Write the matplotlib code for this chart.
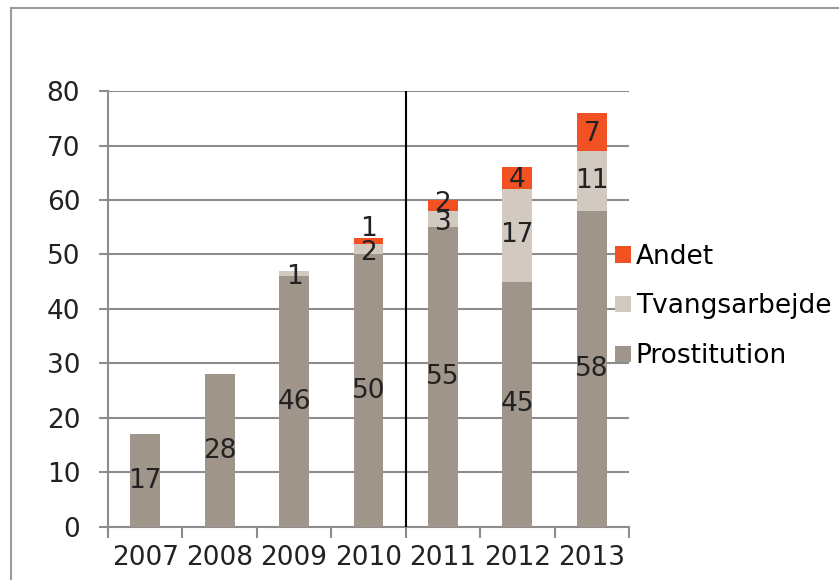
import matplotlib
matplotlib.use("Agg")
import matplotlib.pyplot as plt
from matplotlib.patches import Rectangle
import numpy as np

years = ["2007", "2008", "2009", "2010", "2011", "2012", "2013"]
prostitution = [17, 28, 46, 50, 55, 45, 58]
tvangsarbejde = [0, 0, 1, 2, 3, 17, 11]
andet = [0, 0, 0, 1, 2, 4, 7]

c_pro = "#A0958A"
c_tva = "#D2CAC0"
c_and = "#F25124"
grid_c = "#8C8C8C"
txt_c = "#222222"

plt.rcParams['font.family'] = ['DejaVu Sans']
fig = plt.figure(figsize=(8.39, 5.80), dpi=100)
ax = fig.add_axes([0.1287, 0.0914, 0.7497 - 0.1287, 0.8431 - 0.0914])

x = np.arange(len(years))
w = 0.40
pro = np.array(prostitution)
tva = np.array(tvangsarbejde)
andt = np.array(andet)

b1 = ax.bar(x, pro, w, color=c_pro, label="Prostitution", zorder=3)
b2 = ax.bar(x, tva, w, bottom=pro, color=c_tva, label="Tvangsarbejde", zorder=3)
b3 = ax.bar(x, andt, w, bottom=pro + tva, color=c_and, label="Andet", zorder=3)

fs = 19
for i in range(len(years)):
    ax.text(x[i], pro[i] / 2, str(pro[i]), ha="center", va="center", fontsize=fs, color=txt_c, zorder=5)
    if tva[i] > 0:
        yy = pro[i] + tva[i] / 2
        if tva[i] <= 3:
            yy = pro[i] + tva[i] / 2 - 0.7
        ax.text(x[i], yy, str(tva[i]), ha="center", va="center", fontsize=fs, color=txt_c, zorder=5)
    if andt[i] > 0:
        yy = pro[i] + tva[i] + andt[i] / 2 - 0.3
        if andt[i] == 1:
            yy = pro[i] + tva[i] + andt[i] + 1.6
        elif andt[i] <= 2:
            yy = pro[i] + tva[i] + andt[i] / 2 + 0.3
        ax.text(x[i], yy, str(andt[i]), ha="center", va="center", fontsize=fs, color=txt_c, zorder=5)

ax.set_xlim(-0.5, len(years) - 0.5)
ax.set_ylim(0, 80)
ax.set_yticks(range(0, 81, 10))
ax.tick_params(axis="y", labelsize=fs, colors=grid_c, labelcolor=txt_c, length=6.5, width=1.5, pad=13.5)
ax.set_xticks(x)
ax.set_xticklabels(years)
ax.set_xticks(np.arange(-0.5, len(years), 1.0), minor=True)
ax.tick_params(axis="x", which="major", length=0, labelsize=fs, labelcolor=txt_c, pad=13)
ax.tick_params(axis="x", which="minor", length=8, width=1.5, colors=grid_c)
ax.yaxis.grid(True, color=grid_c, linewidth=1.5, zorder=0)
for s in ["top", "right"]:
    ax.spines[s].set_visible(False)
for s in ["left", "bottom"]:
    ax.spines[s].set_color(grid_c)
    ax.spines[s].set_linewidth(1.5)

ax.plot([3.5, 3.5], [0, 80], color="black", linewidth=1.5, zorder=4)

handles = [b3, b2, b1]
labels = ["Andet", "Tvangsarbejde", "Prostitution"]
fig.legend(handles, labels, loc="upper left", bbox_to_anchor=(0.721, 0.598),
           frameon=False, fontsize=fs, handlelength=0.57, handleheight=0.57,
           handletextpad=0.2, labelspacing=0.9, borderaxespad=0)

# figure frame
fig.patches.append(Rectangle((11 / 839, -0.1), 1.2, (580 - 8) / 580 + 0.1, transform=fig.transFigure,
                             fill=False, edgecolor="#9A9A9A", linewidth=1.5))

fig.savefig("out.png", dpi=100)
